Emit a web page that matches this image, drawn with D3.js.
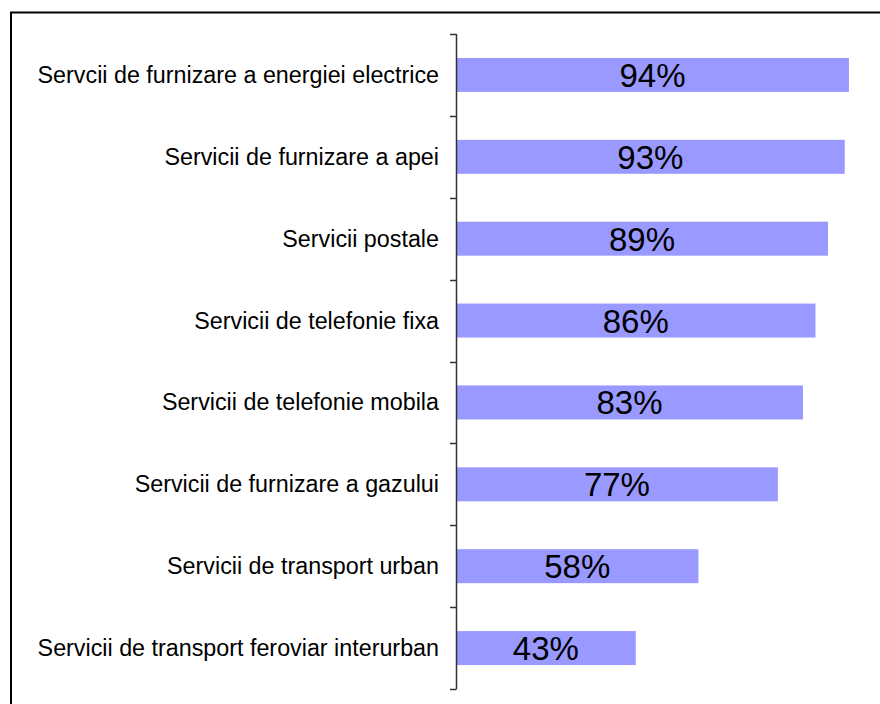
<!DOCTYPE html>
<html><head><meta charset="utf-8">
<script src="https://cdn.jsdelivr.net/npm/d3@7"></script>
<style>body{margin:0;background:#fff}svg{display:block}</style>
</head><body>
<script>
const categories = [
  "Servcii de furnizare a energiei electrice",
  "Servicii de furnizare a apei",
  "Servicii postale",
  "Servicii de telefonie fixa",
  "Servicii de telefonie mobila",
  "Servicii de furnizare a gazului",
  "Servicii de transport urban",
  "Servicii de transport feroviar interurban"
];
const values = [94, 93, 89, 86, 83, 77, 58, 43];
const valueLabels = ["94%", "93%", "89%", "86%", "83%", "77%", "58%", "43%"];

const W = 880, H = 704;
const svg = d3.select("body").append("svg").attr("width", W).attr("height", H);

svg.append("rect").attr("x", 11).attr("y", 12.5).attr("width", 1000).attr("height", 1000)
  .attr("fill", "none").attr("stroke", "#000").attr("stroke-width", 2);

const x0 = 456, plotTop = 34, plotBottom = 689;
const x = d3.scaleLinear().domain([0, 100]).range([x0, x0 + 418]);
const y = d3.scaleBand().domain(categories).range([plotTop, plotBottom]).padding(0);
const barH = y.bandwidth() * 0.415;

const g = svg.append("g");
g.selectAll("rect.bar").data(values).enter().append("rect")
  .attr("class", "bar")
  .attr("x", x(0))
  .attr("y", (d, i) => y(categories[i]) + (y.bandwidth() - barH) / 2)
  .attr("width", d => x(d) - x(0))
  .attr("height", barH)
  .attr("fill", "#9999FF");

const tickYs = categories.map(c => y(c)).concat([plotBottom]);
g.append("line").attr("x1", x0 + 0.5).attr("x2", x0 + 0.5).attr("y1", plotTop).attr("y2", plotBottom)
  .attr("stroke", "#333").attr("stroke-width", 1.5);
g.selectAll("line.tick").data(tickYs).enter().append("line")
  .attr("class", "tick")
  .attr("x1", x0 - 6).attr("x2", x0 + 0.5)
  .attr("y1", d => Math.round(d) + 0.5).attr("y2", d => Math.round(d) + 0.5)
  .attr("stroke", "#333").attr("stroke-width", 1.5);

g.selectAll("text.cat").data(categories).enter().append("text")
  .attr("class", "cat")
  .attr("x", x0 - 17)
  .attr("y", c => y(c) + y.bandwidth() / 2 + 8)
  .attr("text-anchor", "end")
  .attr("font-family", "Liberation Sans, Arial, sans-serif")
  .attr("font-size", 23.3)
  .attr("fill", "#000")
  .text(c => c);

g.selectAll("text.val").data(values).enter().append("text")
  .attr("class", "val")
  .attr("x", d => (x(0) + x(d)) / 2)
  .attr("y", (d, i) => y(categories[i]) + y.bandwidth() / 2 + 12)
  .attr("text-anchor", "middle")
  .attr("font-family", "Liberation Sans, Arial, sans-serif")
  .attr("font-size", 33)
  .attr("fill", "#000")
  .text((d, i) => valueLabels[i]);
</script>
</body></html>
